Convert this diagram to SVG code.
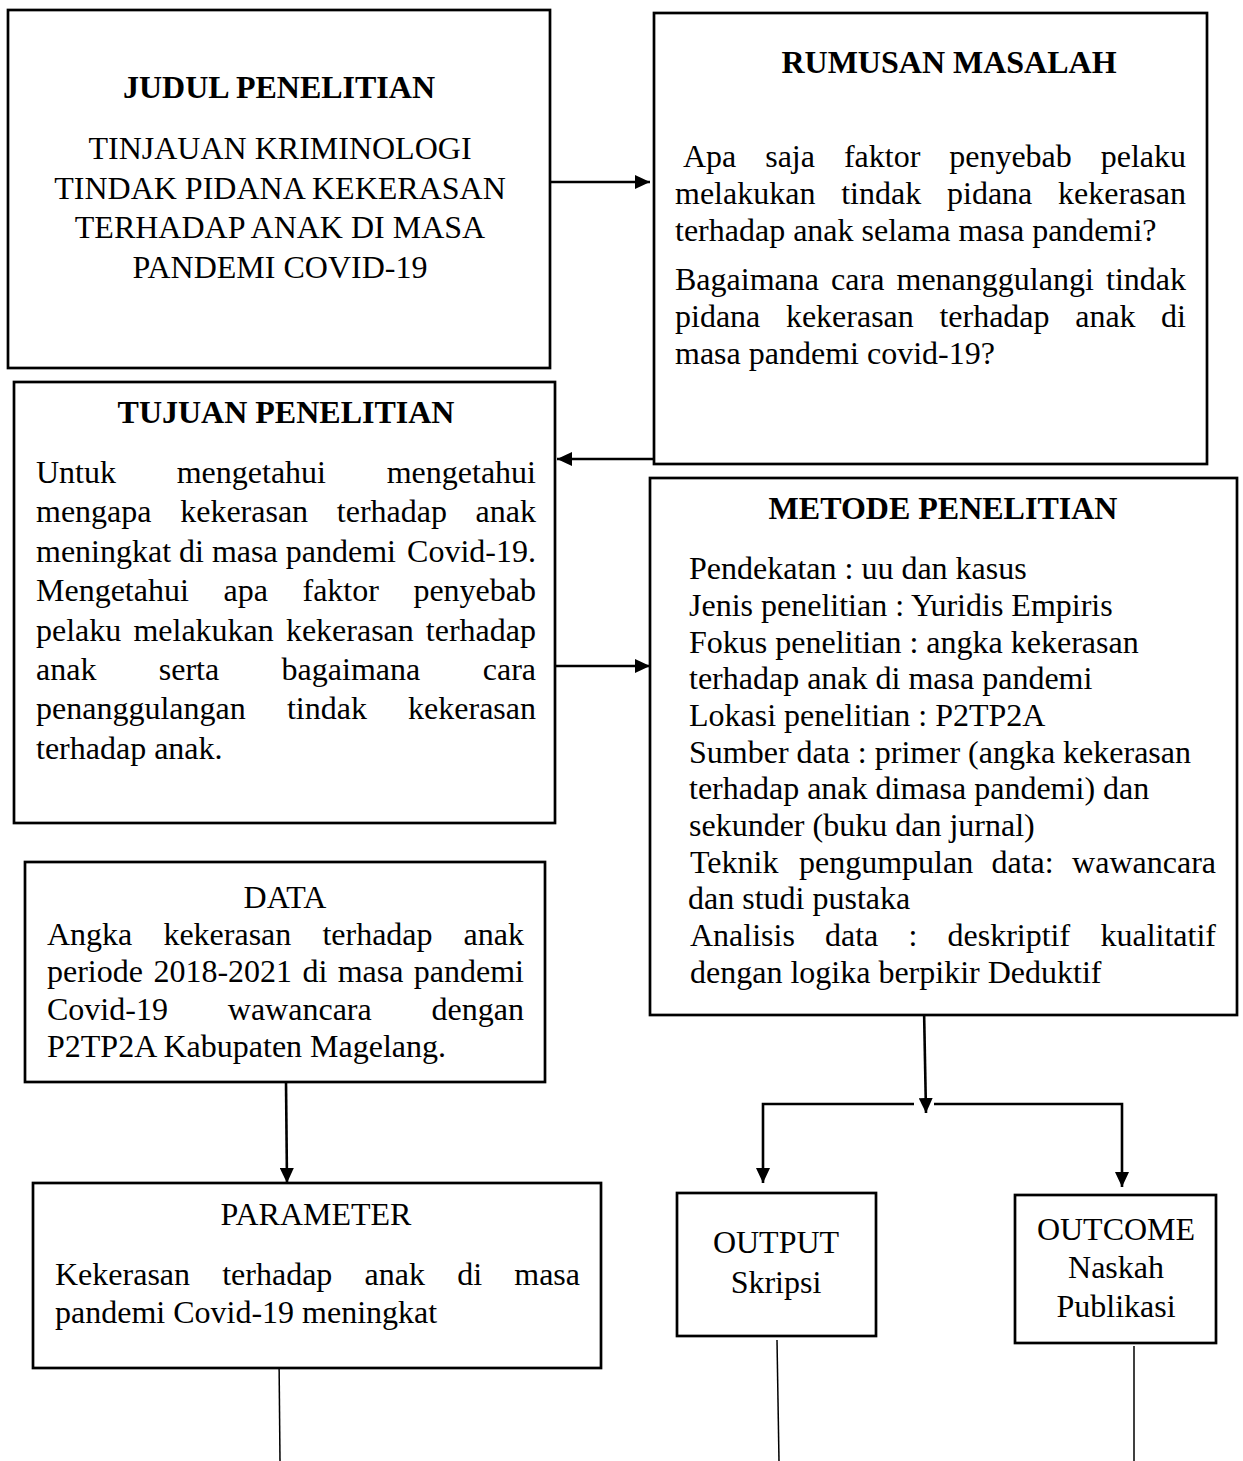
<svg xmlns="http://www.w3.org/2000/svg" width="1243" height="1461" viewBox="0 0 1243 1461">
<style>
.box{fill:#fff;stroke:#000;stroke-width:2.7}
.t{font-family:"Liberation Serif","Times New Roman",serif;font-size:32px;fill:#000}
.b{font-weight:bold}
.c{text-anchor:middle}
.e{text-anchor:end}
.conn{fill:none;stroke:#000;stroke-width:2.6}
.thin{fill:none;stroke:#000;stroke-width:1.5}
</style>
<defs>
<marker id="arr" markerUnits="userSpaceOnUse" markerWidth="16" markerHeight="14" refX="15" refY="7" orient="auto">
<path d="M0,0 L15,7 L0,14 z" fill="#000"/>
</marker>
</defs>
<rect width="1243" height="1461" fill="#fff"/>

<g id="connectors">
<line class="conn" x1="551" y1="182" x2="650" y2="182" marker-end="url(#arr)"/>
<line class="conn" x1="654" y1="459" x2="557" y2="459" marker-end="url(#arr)"/>
<line class="conn" x1="556" y1="666" x2="650" y2="666" marker-end="url(#arr)"/>
<line class="conn" x1="924" y1="1008" x2="926" y2="1113" marker-end="url(#arr)"/>
<polyline class="conn" points="914,1104 763,1104 763,1183" marker-end="url(#arr)"/>
<polyline class="conn" points="934,1104 1122,1104 1122,1187" marker-end="url(#arr)"/>
<line class="conn" x1="286" y1="1082" x2="287" y2="1183" marker-end="url(#arr)"/>
<line class="thin" x1="279" y1="1355" x2="280" y2="1461"/>
<line class="thin" x1="777" y1="1340" x2="779" y2="1461"/>
<line class="thin" x1="1134" y1="1346" x2="1134" y2="1461"/>
</g>

<g id="judul">
<rect class="box" x="8" y="10" width="542" height="358"/>
<text class="t b c" x="279" y="98">JUDUL PENELITIAN</text>
<text class="t c" x="280" y="159">TINJAUAN KRIMINOLOGI</text>
<text class="t c" x="280" y="199">TINDAK PIDANA KEKERASAN</text>
<text class="t c" x="280" y="238">TERHADAP ANAK DI MASA</text>
<text class="t c" x="280" y="278">PANDEMI COVID-19</text>
</g>

<g id="rumusan">
<rect class="box" x="654" y="13" width="553" height="451"/>
<text class="t b c" x="949" y="73">RUMUSAN MASALAH</text>
<text class="t" y="167"><tspan x="683">Apa </tspan><tspan x="765.2">saja </tspan><tspan x="843.9">faktor </tspan><tspan x="949.2">penyebab </tspan><tspan x="1186" class="e">pelaku</tspan></text>
<text class="t" y="204"><tspan x="675">melakukan </tspan><tspan x="841.2">tindak </tspan><tspan x="947">pidana </tspan><tspan x="1186" class="e">kekerasan</tspan></text>
<text class="t" x="675" y="241">terhadap anak selama masa pandemi?</text>
<text class="t" y="290"><tspan x="675">Bagaimana </tspan><tspan x="831.1">cara </tspan><tspan x="896.5">menanggulangi </tspan><tspan x="1186" class="e">tindak</tspan></text>
<text class="t" y="327"><tspan x="675">pidana </tspan><tspan x="785.9">kekerasan </tspan><tspan x="939.4">terhadap </tspan><tspan x="1075.2">anak </tspan><tspan x="1186" class="e">di</tspan></text>
<text class="t" x="675" y="364">masa pandemi covid-19?</text>
</g>

<g id="tujuan">
<rect class="box" x="14" y="382" width="541" height="441"/>
<text class="t b c" x="286" y="423">TUJUAN PENELITIAN</text>
<text class="t" y="483"><tspan x="36">Untuk </tspan><tspan x="176.7">mengetahui </tspan><tspan x="536" class="e">mengetahui</tspan></text>
<text class="t" y="522.4"><tspan x="36">mengapa </tspan><tspan x="180.2">kekerasan </tspan><tspan x="336.8">terhadap </tspan><tspan x="536" class="e">anak</tspan></text>
<text class="t" y="561.8"><tspan x="36">meningkat di masa pandemi </tspan><tspan x="536" class="e">Covid-19.</tspan></text>
<text class="t" y="601.2"><tspan x="36">Mengetahui </tspan><tspan x="223.5">apa </tspan><tspan x="302.5">faktor </tspan><tspan x="536" class="e">penyebab</tspan></text>
<text class="t" y="640.6"><tspan x="36">pelaku </tspan><tspan x="133.4">melakukan </tspan><tspan x="285.9">kekerasan </tspan><tspan x="536" class="e">terhadap</tspan></text>
<text class="t" y="680"><tspan x="36">anak </tspan><tspan x="158.8">serta </tspan><tspan x="281.6">bagaimana </tspan><tspan x="536" class="e">cara</tspan></text>
<text class="t" y="719.4"><tspan x="36">penanggulangan </tspan><tspan x="286.9">tindak </tspan><tspan x="536" class="e">kekerasan</tspan></text>
<text class="t" x="36" y="758.8">terhadap anak.</text>
</g>

<g id="metode">
<rect class="box" x="650" y="478" width="587" height="537"/>
<text class="t b c" x="943" y="519">METODE PENELITIAN</text>
<text class="t" x="689" y="579">Pendekatan : uu dan kasus</text>
<text class="t" x="689" y="616">Jenis penelitian : Yuridis Empiris</text>
<text class="t" x="689" y="653">Fokus penelitian : angka kekerasan</text>
<text class="t" x="689" y="689">terhadap anak di masa pandemi</text>
<text class="t" x="689" y="726">Lokasi penelitian : P2TP2A</text>
<text class="t" x="689" y="763">Sumber data : primer (angka kekerasan</text>
<text class="t" x="689" y="799">terhadap anak dimasa pandemi) dan</text>
<text class="t" x="689" y="836">sekunder (buku dan jurnal)</text>
<text class="t" y="873"><tspan x="690">Teknik </tspan><tspan x="799">pengumpulan </tspan><tspan x="991.5">data: </tspan><tspan x="1216" class="e">wawancara</tspan></text>
<text class="t" x="688" y="909">dan studi pustaka</text>
<text class="t" y="946"><tspan x="690">Analisis </tspan><tspan x="825">data </tspan><tspan x="908.5">: </tspan><tspan x="947.5">deskriptif </tspan><tspan x="1216" class="e">kualitatif</tspan></text>
<text class="t" x="690" y="983">dengan logika berpikir Deduktif</text>
</g>

<g id="data">
<rect class="box" x="25" y="862" width="520" height="220"/>
<text class="t c" x="285" y="908">DATA</text>
<text class="t" y="945"><tspan x="47">Angka </tspan><tspan x="163.4">kekerasan </tspan><tspan x="322.4">terhadap </tspan><tspan x="524" class="e">anak</tspan></text>
<text class="t" y="982"><tspan x="47">periode </tspan><tspan x="153.4">2018-2021 </tspan><tspan x="302.4">di </tspan><tspan x="337.7">masa </tspan><tspan x="524" class="e">pandemi</tspan></text>
<text class="t" y="1020"><tspan x="47">Covid-19 </tspan><tspan x="227.8">wawancara </tspan><tspan x="524" class="e">dengan</tspan></text>
<text class="t" x="47" y="1057">P2TP2A Kabupaten Magelang.</text>
</g>

<g id="parameter">
<rect class="box" x="33" y="1183" width="568" height="185"/>
<text class="t c" x="316" y="1225">PARAMETER</text>
<text class="t" y="1285"><tspan x="55">Kekerasan </tspan><tspan x="222.2">terhadap </tspan><tspan x="364.6">anak </tspan><tspan x="457.2">di </tspan><tspan x="580" class="e">masa</tspan></text>
<text class="t" x="55" y="1323">pandemi Covid-19 meningkat</text>
</g>

<g id="output">
<rect class="box" x="677" y="1193" width="199" height="143"/>
<text class="t c" x="776" y="1253">OUTPUT</text>
<text class="t c" x="776" y="1293">Skripsi</text>
</g>

<g id="outcome">
<rect class="box" x="1015" y="1195" width="201" height="148"/>
<text class="t c" x="1116" y="1240">OUTCOME</text>
<text class="t c" x="1116" y="1278">Naskah</text>
<text class="t c" x="1116" y="1317">Publikasi</text>
</g>
</svg>
